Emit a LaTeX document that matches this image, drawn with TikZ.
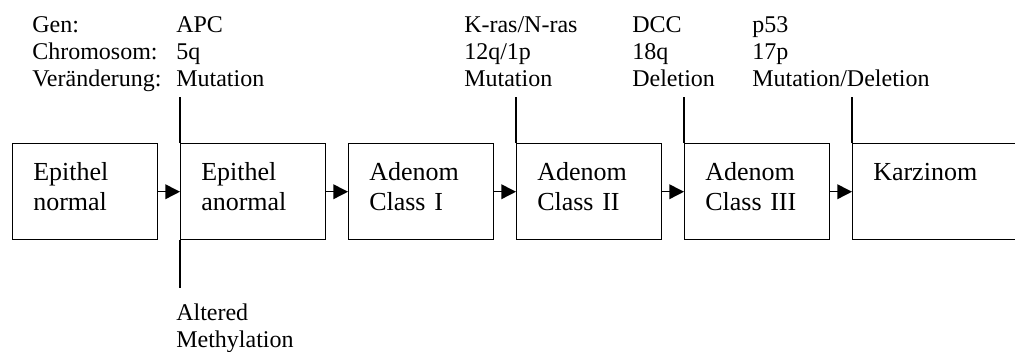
\documentclass[tikz,border=0pt]{standalone}
\usepackage{fontspec}
\setmainfont{Liberation Serif}
\usetikzlibrary{arrows.meta,calc}

\begin{document}
\begin{tikzpicture}[
x=0.75pt, y=-0.75pt,
Stage/.style={draw, line width=1.1pt, minimum width=108.75pt, minimum height=72pt, inner sep=0pt, anchor=north west},
StageText/.style={anchor=base west, inner sep=0pt, align=left, text width=100pt, font=\fontsize{19.5pt}{22.5pt}\selectfont},
Info/.style={anchor=base west, inner sep=0pt, align=left, text width=150pt, font=\fontsize{18pt}{20.25pt}\selectfont},
StepArrow/.style={draw, line width=1.1pt, -{Triangle[length=11pt, width=11pt]}},
Marker/.style={draw, line width=1.1pt}
]
\useasboundingbox (0,0) rectangle (1015,351);
\clip (0,0) rectangle (1015,351);

% the six stages, left to right
\node[Stage] (N) at (12,143) {};
\node[Stage] (EA) at (180,143) {};
\node[Stage] (A1) at (348,143) {};
\node[Stage] (A2) at (516,143) {};
\node[Stage] (A3) at (684,143) {};
\node[Stage, minimum width=200pt] (K) at (852,143) {};

\node[StageText] (tN) at ($(N.north west)+(21,37)$) {Epithel\\normal};
\node[StageText] (tEA) at ($(EA.north west)+(21,37)$) {Epithel\\anormal};
\node[StageText] (tA1) at ($(A1.north west)+(21,37)$) {Adenom\\Class I};
\node[StageText] (tA2) at ($(A2.north west)+(21,37)$) {Adenom\\Class II};
\node[StageText] (tA3) at ($(A3.north west)+(21,37)$) {Adenom\\Class III};
\node[StageText] (tK) at ($(K.north west)+(21,37)$) {Karzinom};

\draw[StepArrow] (N.east) -- (EA.west);
\draw[StepArrow] (EA.east) -- (A1.west);
\draw[StepArrow] (A1.east) -- (A2.west);
\draw[StepArrow] (A2.east) -- (A3.west);
\draw[StepArrow] (A3.east) -- (K.west);

% gene data above, methylation below
\node[Info] (lab) at (32,32) {Gen:\\Chromosom:\\Veränderung:};
\node[Info] (apc) at (176,32) {APC\\5q\\Mutation};
\node[Info] (ras) at (464,32) {K-ras/N-ras\\12q/1p\\Mutation};
\node[Info] (dcc) at (632,32) {DCC\\18q\\Deletion};
\node[Info] (p53) at (752,32) {p53\\17p\\Mutation/Deletion};
\node[Info] (meth) at (176,320) {Altered\\Methylation};

\coordinate (apcEnd) at (180,97);
\coordinate (rasEnd) at (516,97);
\coordinate (dccEnd) at (684,97);
\coordinate (p53End) at (852,97);
\coordinate (methEnd) at (180,288);

\draw[Marker] (EA.north west) -- (apcEnd);
\draw[Marker] (A2.north west) -- (rasEnd);
\draw[Marker] (A3.north west) -- (dccEnd);
\draw[Marker] (K.north west) -- (p53End);
\draw[Marker] (EA.south west) -- (methEnd);

\end{tikzpicture}
\end{document}
